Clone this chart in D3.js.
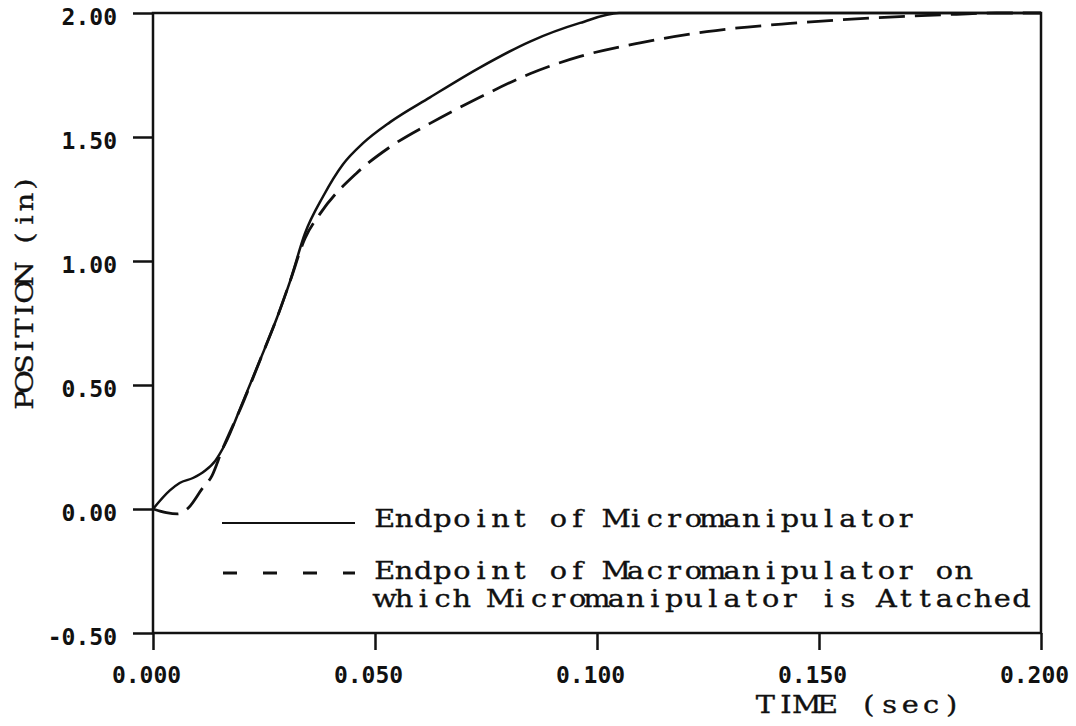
<!DOCTYPE html>
<html>
<head>
<meta charset="utf-8">
<script src="https://cdn.jsdelivr.net/npm/d3@7"></script>
<style>
  html, body { margin: 0; padding: 0; background: #fff; }
  svg { display: block; }
</style>
</head>
<body>
<svg id="chart" width="1076" height="726"></svg>
<script>
// Step response: endpoint position of micro- and macromanipulator
const timeMicro = [0, 0.0038, 0.006, 0.009, 0.0117, 0.014, 0.0162, 0.0203, 0.0241, 0.0279, 0.0309,
  0.0342, 0.0383, 0.0428, 0.0473, 0.0534, 0.0624, 0.0736, 0.0849, 0.0962, 0.105, 0.12, 0.15, 0.2];
const posMicro = [0, 0.075, 0.105, 0.125, 0.154, 0.194, 0.26, 0.435, 0.6, 0.77, 0.92,
  1.11, 1.26, 1.39, 1.475, 1.56, 1.66, 1.78, 1.885, 1.96, 2.0, 2.0, 2.0, 2.0];

const timeMacro = [0, 0.003, 0.0055, 0.008, 0.011, 0.0133, 0.0155, 0.0203, 0.0241, 0.0279, 0.0309,
  0.0342, 0.0376, 0.0459, 0.0534, 0.0624, 0.0736, 0.0849, 0.0962, 0.1097, 0.1247, 0.1435, 0.162,
  0.181, 0.19, 0.2];
const posMacro = [0, -0.015, -0.02, 0.005, 0.08, 0.135, 0.235, 0.43, 0.6, 0.77, 0.92,
  1.09, 1.19, 1.355, 1.46, 1.555, 1.66, 1.755, 1.825, 1.88, 1.925, 1.958, 1.98,
  1.995, 2.0, 2.0];

const xTicks = [0, 0.05, 0.1, 0.15, 0.2];
const xTickLabels = ["0.000", "0.050", "0.100", "0.150", "0.200"];
const yTicks = [-0.5, 0, 0.5, 1.0, 1.5, 2.0];
const yTickLabels = ["-0.50", "0.00", "0.50", "1.00", "1.50", "2.00"];

const legendLabels = [
  ["Endpoint of Micromanipulator"],
  ["Endpoint of Macromanipulator on", "which Micromanipulator is Attached"]
];

const svg = d3.select("#chart");
const ink = "#111";
const plotLeft = 153, plotRight = 1041, plotTop = 13, plotBottom = 633;
const titleFont = "'DejaVu Serif', 'Liberation Serif', serif";
const tickFont = "'DejaVu Sans Mono', monospace";
const widen = 1.15;

const x = d3.scaleLinear().domain([0, 0.2]).range([plotLeft, plotRight]);
const y = d3.scaleLinear().domain([-0.5, 2.0]).range([plotBottom, plotTop]);

// typewriter-style text: one text element whose characters are each placed
// centred in a fixed-width cell, glyphs widened a little to fill the cell
function monoText(parent, str, cell, size) {
  const c = cell / widen;
  const xs = Array.from(str, (ch, i) => (i * c + c / 2).toFixed(2)).join(" ");
  return parent.append("g").attr("transform", `scale(${widen},1)`)
    .append("text")
    .attr("font-family", titleFont).attr("font-size", size)
    .attr("fill", ink).attr("stroke", ink).attr("stroke-width", 0.35)
    .attr("text-anchor", "middle")
    .attr("xml:space", "preserve")
    .attr("x", xs).attr("y", 0)
    .text(str);
}

// y axis: ticks poke out to the left of the frame
const yAxis = svg.append("g")
  .attr("transform", `translate(${plotLeft},0)`)
  .call(d3.axisLeft(y).tickValues(yTicks).tickSize(20).tickSizeOuter(0)
    .tickFormat((d, i) => yTickLabels[i]));
yAxis.select(".domain").remove();
yAxis.selectAll(".tick line").attr("stroke", ink).attr("stroke-width", 2.5);
yAxis.selectAll(".tick text")
  .attr("x", -36).attr("dy", "0.5em")
  .attr("font-family", tickFont).attr("font-weight", "bold")
  .attr("font-size", 23).attr("fill", ink);

// x axis: ticks hang below the frame
const xAxis = svg.append("g")
  .attr("transform", `translate(0,${plotBottom})`)
  .call(d3.axisBottom(x).tickValues(xTicks).tickSize(17).tickSizeOuter(0)
    .tickFormat((d, i) => xTickLabels[i]));
xAxis.select(".domain").remove();
xAxis.selectAll(".tick line").attr("stroke", ink).attr("stroke-width", 2.5);
xAxis.selectAll(".tick text")
  .attr("x", -7).attr("y", 34)
  .attr("font-family", tickFont).attr("font-weight", "bold")
  .attr("font-size", 23).attr("fill", ink);

// plot frame
svg.append("rect")
  .attr("x", plotLeft).attr("y", plotTop)
  .attr("width", plotRight - plotLeft).attr("height", plotBottom - plotTop)
  .attr("fill", "none").attr("stroke", ink).attr("stroke-width", 2.5);

// curves
const line = d3.line()
  .x(d => x(d[0])).y(d => y(d[1]))
  .curve(d3.curveMonotoneX);

svg.append("path")
  .datum(d3.zip(timeMicro, posMicro))
  .attr("d", line)
  .attr("fill", "none").attr("stroke", ink).attr("stroke-width", 2.5);

svg.append("path")
  .datum(d3.zip(timeMacro, posMacro))
  .attr("d", line)
  .attr("fill", "none").attr("stroke", ink).attr("stroke-width", 2.8)
  .attr("stroke-dasharray", "26,10");

// legend
const legend = svg.append("g");
legend.append("line")
  .attr("x1", 222).attr("x2", 355).attr("y1", 523).attr("y2", 523)
  .attr("stroke", ink).attr("stroke-width", 2);
legend.append("line")
  .attr("x1", 223).attr("x2", 355).attr("y1", 573).attr("y2", 573)
  .attr("stroke", ink).attr("stroke-width", 3)
  .attr("stroke-dasharray", "14,26");

const legendRows = [[527, legendLabels[0][0]], [579, legendLabels[1][0]], [607, legendLabels[1][1]]];
legendRows.forEach(([yy, txt]) => {
  monoText(legend.append("g").attr("transform", `translate(375,${yy})`), txt, 19.3, 25);
});

// axis titles
const timeTitle = "TIME (sec)";
monoText(svg.append("g").attr("transform", `translate(${962 - timeTitle.length * 20.7},713)`),
  timeTitle, 20.7, 25);

const posTitle = "POSITION (in)";
monoText(svg.append("g").attr("transform", `translate(33,${292 + posTitle.length * 18 / 2}) rotate(-90)`),
  posTitle, 18, 25);
</script>
</body>
</html>
